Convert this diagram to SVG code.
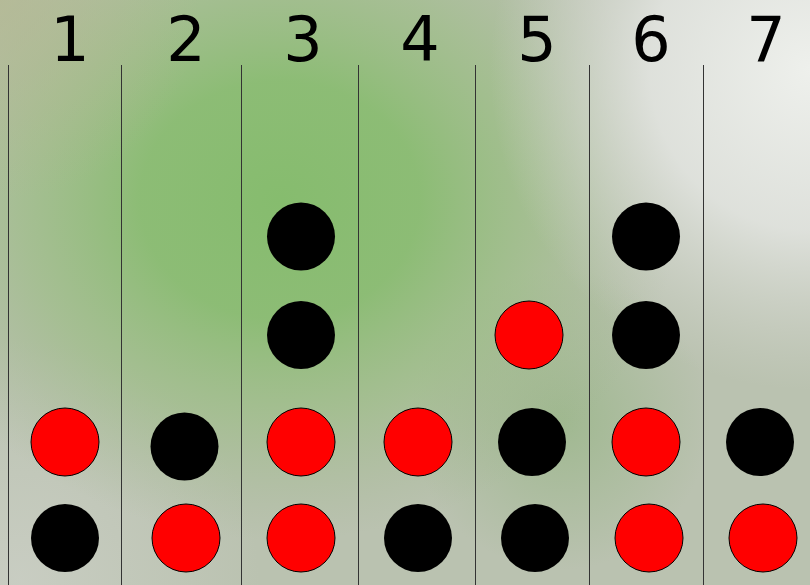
<svg xmlns="http://www.w3.org/2000/svg" width="810" height="585" viewBox="0 0 810 585">
<defs>
<radialGradient id="green" cx="280" cy="200" r="1" gradientUnits="userSpaceOnUse" gradientTransform="translate(280 200) scale(400 340) translate(-280 -200)">
<stop offset="0" stop-color="#86bc6e" stop-opacity="1"/>
<stop offset="0.35" stop-color="#8abc72" stop-opacity="0.95"/>
<stop offset="0.65" stop-color="#98bc80" stop-opacity="0.6"/>
<stop offset="1" stop-color="#a0b48c" stop-opacity="0"/>
</radialGradient>
<radialGradient id="tl" cx="0" cy="0" r="200" gradientUnits="userSpaceOnUse">
<stop offset="0" stop-color="#b4b890" stop-opacity="0.7"/>
<stop offset="1" stop-color="#b4b890" stop-opacity="0"/>
</radialGradient>
<radialGradient id="light" cx="810" cy="70" r="320" gradientUnits="userSpaceOnUse">
<stop offset="0" stop-color="#eef0ec" stop-opacity="1"/>
<stop offset="0.5" stop-color="#e2e4e0" stop-opacity="0.9"/>
<stop offset="1" stop-color="#d4d6cf" stop-opacity="0"/>
</radialGradient>
<radialGradient id="green2" cx="560" cy="420" r="150" gradientUnits="userSpaceOnUse">
<stop offset="0" stop-color="#94b482" stop-opacity="0.7"/>
<stop offset="1" stop-color="#94b482" stop-opacity="0"/>
</radialGradient>
<radialGradient id="bl" cx="20" cy="580" r="240" gradientUnits="userSpaceOnUse">
<stop offset="0" stop-color="#cacec4" stop-opacity="0.9"/>
<stop offset="1" stop-color="#cacec4" stop-opacity="0"/>
</radialGradient>
</defs>
<style>
.col{stroke:#333;stroke-width:1;fill:none}
.lbl{font-family:"DejaVu Sans",sans-serif;font-size:62px;fill:#000;text-anchor:middle}
.r{fill:#ff0000;stroke:#000;stroke-width:1}
.b{fill:#000;stroke:none}
</style>
<g id="background">
<rect x="0" y="0" width="810" height="585" fill="#bac2b0"/>
<rect x="0" y="0" width="810" height="585" fill="url(#bl)"/>
<rect x="0" y="0" width="810" height="585" fill="url(#green2)"/>
<rect x="0" y="0" width="810" height="585" fill="url(#green)"/>
<rect x="0" y="0" width="810" height="585" fill="url(#tl)"/>
<rect x="0" y="0" width="810" height="585" fill="url(#light)"/>
</g>
<g id="columns">
<line class="col" x1="8.5" y1="65" x2="8.5" y2="585"/>
<line class="col" x1="121.5" y1="65" x2="121.5" y2="585"/>
<line class="col" x1="241.5" y1="65" x2="241.5" y2="585"/>
<line class="col" x1="358.5" y1="65" x2="358.5" y2="585"/>
<line class="col" x1="475.5" y1="65" x2="475.5" y2="585"/>
<line class="col" x1="589.5" y1="65" x2="589.5" y2="585"/>
<line class="col" x1="703.5" y1="65" x2="703.5" y2="585"/>
</g>
<g id="labels">
<text class="lbl" x="70" y="61">1</text>
<text class="lbl" x="186" y="61">2</text>
<text class="lbl" x="303" y="61">3</text>
<text class="lbl" x="420" y="61">4</text>
<text class="lbl" x="537" y="61">5</text>
<text class="lbl" x="651" y="61">6</text>
<text class="lbl" x="766" y="61">7</text>
</g>
<g id="col1"><circle class="r" cx="65" cy="442" r="34"/><circle class="b" cx="65" cy="538" r="34"/></g>
<g id="col2"><circle class="b" cx="184.5" cy="446.5" r="34"/><circle class="r" cx="186" cy="538" r="34"/></g>
<g id="col3"><circle class="b" cx="301" cy="236.5" r="34"/><circle class="b" cx="301" cy="335" r="34"/><circle class="r" cx="301" cy="442" r="34"/><circle class="r" cx="301" cy="538" r="34"/></g>
<g id="col4"><circle class="r" cx="418" cy="442" r="34"/><circle class="b" cx="418" cy="538" r="34"/></g>
<g id="col5"><circle class="r" cx="529" cy="335" r="34"/><circle class="b" cx="532" cy="442" r="34"/><circle class="b" cx="535" cy="538" r="34"/></g>
<g id="col6"><circle class="b" cx="646" cy="236.5" r="34"/><circle class="b" cx="646" cy="335" r="34"/><circle class="r" cx="646" cy="442" r="34"/><circle class="r" cx="649" cy="538" r="34"/></g>
<g id="col7"><circle class="b" cx="760" cy="442" r="34"/><circle class="r" cx="763" cy="538" r="34"/></g>
</svg>
